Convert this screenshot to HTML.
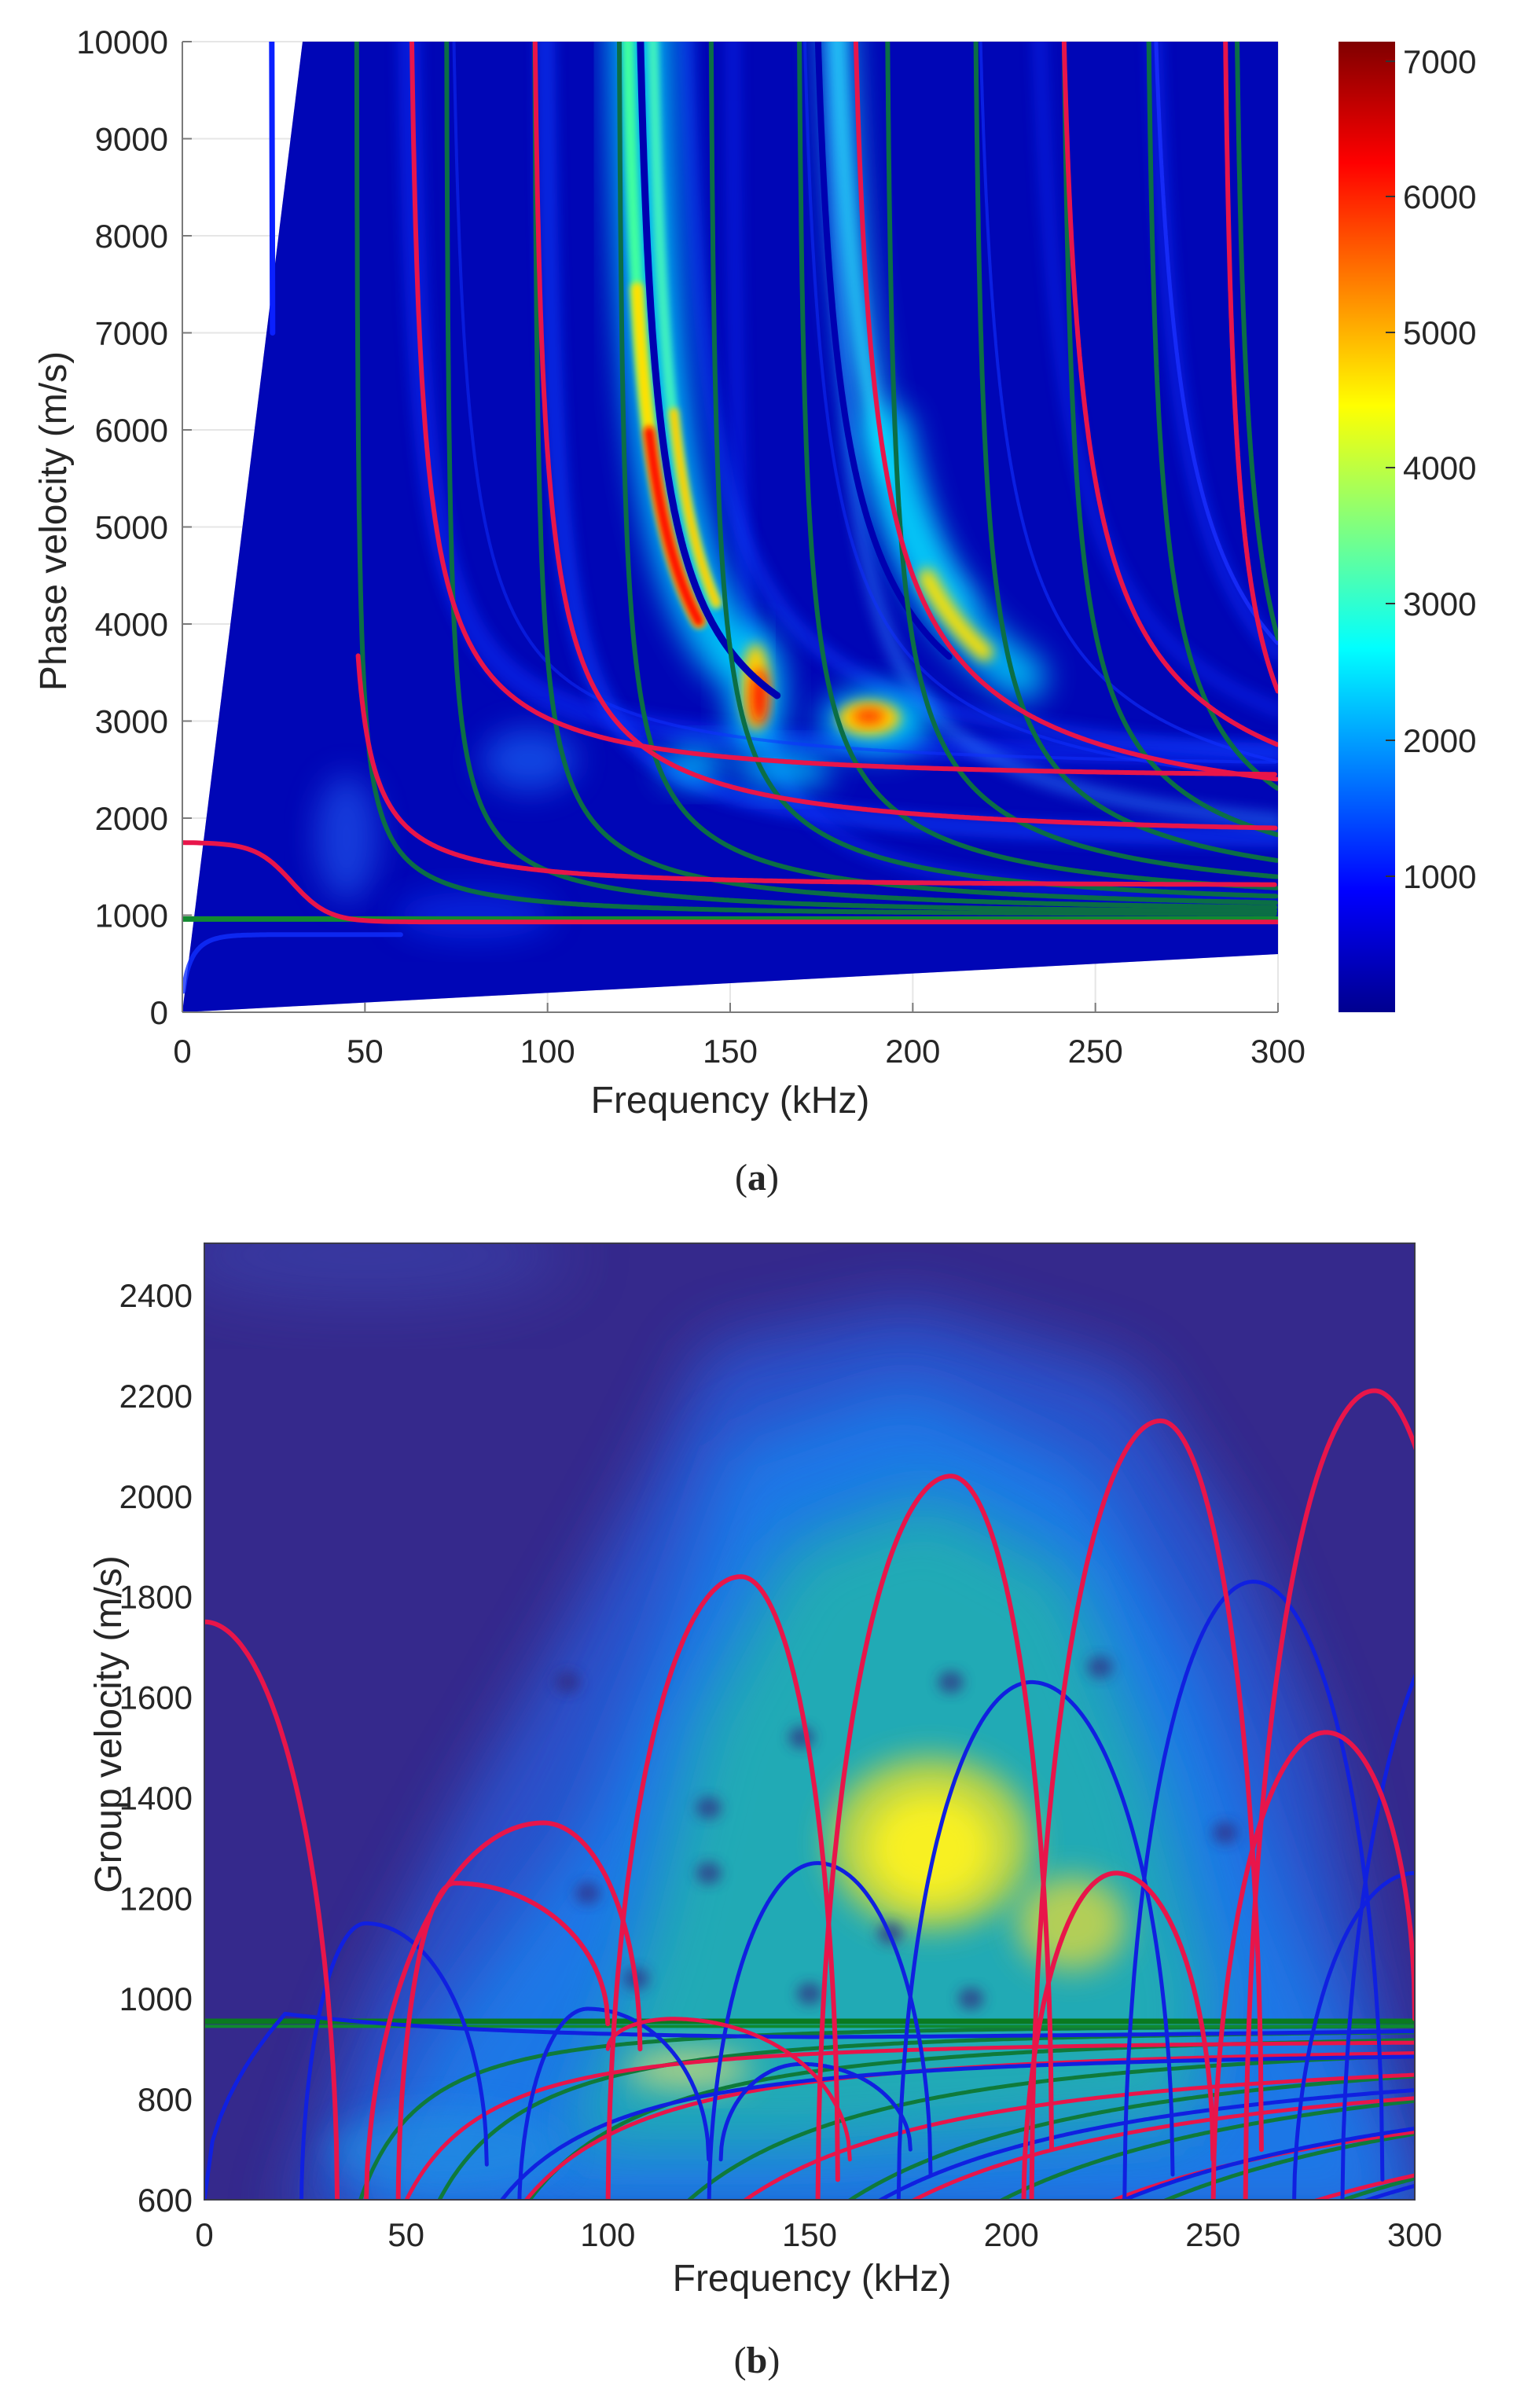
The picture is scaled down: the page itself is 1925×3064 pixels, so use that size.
<!DOCTYPE html>
<html><head><meta charset="utf-8"><style>
html,body{margin:0;padding:0;background:#fff;width:1925px;height:3064px;overflow:hidden}
svg{display:block}
text{font-family:"Liberation Sans",sans-serif;fill:#262626}
</style></head><body>
<svg id="s" xmlns="http://www.w3.org/2000/svg" width="1925" height="3064" viewBox="0 0 1925 3064">
<defs>
<filter id="b4" x="-50%" y="-50%" width="200%" height="200%"><feGaussianBlur stdDeviation="4"/></filter>
<filter id="b8" x="-50%" y="-50%" width="200%" height="200%"><feGaussianBlur stdDeviation="8"/></filter>
<filter id="b20" x="-50%" y="-50%" width="200%" height="200%"><feGaussianBlur stdDeviation="20"/></filter>
<filter id="b40" x="-50%" y="-50%" width="200%" height="200%"><feGaussianBlur stdDeviation="40"/></filter>
<clipPath id="cA"><polygon points="232,1288 385,53 1626,53 1626,1214"/></clipPath>
<clipPath id="cA2"><rect x="232" y="53" width="1394" height="1235"/></clipPath>
<clipPath id="cB"><rect x="260" y="1582" width="1540" height="1217"/></clipPath>
<linearGradient id="jet" x1="0" y1="0" x2="0" y2="1">
<stop offset="0" stop-color="#800000"/><stop offset="0.125" stop-color="#ff0000"/>
<stop offset="0.375" stop-color="#ffff00"/><stop offset="0.625" stop-color="#00ffff"/>
<stop offset="0.875" stop-color="#0000ff"/><stop offset="1" stop-color="#00008f"/>
</linearGradient>
</defs>
<g stroke="#e6e6e6" stroke-width="2" id="gridA"></g>
<polygon points="232,1288 385,53 1626,53 1626,1214" fill="#0000a8"/>
<g id="heatA" clip-path="url(#cA)"></g>
<g id="curvesA" clip-path="url(#cA2)"></g>
<g stroke="#7a7a7a" stroke-width="2" fill="none"><line x1="232" y1="53" x2="232" y2="1288"/><line x1="232" y1="1288" x2="1626" y2="1288"/></g>
<g id="ticksA"></g>
<rect x="1703" y="53" width="72" height="1235" fill="url(#jet)"/>
<g id="cbar"></g>
<text x="929" y="1416" font-size="48" text-anchor="middle">Frequency (kHz)</text>
<text transform="translate(84,663) rotate(-90)" font-size="48" text-anchor="middle">Phase velocity (m/s)</text>
<text x="963" y="1514" font-size="48" text-anchor="middle" style='font-family:"Liberation Serif",serif'>(<tspan font-weight="bold">a</tspan>)</text>
<rect x="260" y="1582" width="1540" height="1217" fill="#35298c"/>
<g id="heatB" clip-path="url(#cB)"></g>
<g id="curvesB" clip-path="url(#cB)"></g>
<rect x="260" y="1582" width="1540" height="1217" fill="none" stroke="#3a3a4a" stroke-width="2"/>
<g id="ticksB"></g>
<text x="1033" y="2915" font-size="48" text-anchor="middle">Frequency (kHz)</text>
<text transform="translate(154,2194) rotate(-90)" font-size="48" text-anchor="middle">Group velocity (m/s)</text>
<text x="963" y="3019" font-size="48" text-anchor="middle" style='font-family:"Liberation Serif",serif'>(<tspan font-weight="bold">b</tspan>)</text>
</svg>
<script>
var NS="http://www.w3.org/2000/svg";
function el(p,tag,a,txt){var e=document.createElementNS(NS,tag);for(var k in a)e.setAttribute(k,a[k]);if(txt!==undefined)e.textContent=txt;document.getElementById(p).appendChild(e);return e;}
function XA(f){return 232+f*1394/300}function YA(v){return 1288-v*0.1235}
function XB(f){return 260+f*1540/300}function YB(v){return 2799-(v-600)*0.6394}
function poly(p,pts,st,w,extra){var d="";for(var i=0;i<pts.length;i++){d+=(i?"L":"M")+pts[i][0].toFixed(1)+","+pts[i][1].toFixed(1);}var a={d:d,fill:"none",stroke:st,"stroke-width":w,"stroke-linecap":"round","stroke-linejoin":"round"};if(extra)for(var k in extra)a[k]=extra[k];return el(p,"path",a);}
function cut(fc,vinf,f0,f1,vmax,vmin,dx){var pts=[];f0=f0||fc+0.01;f1=f1||300;vmax=vmax||10500;vmin=vmin||0;dx=dx||0;
 for(var i=0;i<=600;i++){var f=fc+Math.pow(i/600,2.2)*(300-fc)+0.001;if(f<f0||f>f1)continue;var v=vinf/Math.sqrt(1-(fc/f)*(fc/f));if(v>vmax||v<vmin)continue;pts.push([XA(f)+dx,YA(v)]);}return pts;}
for(var v=1000;v<=10000;v+=1000)el("gridA","line",{x1:232,x2:1626,y1:YA(v),y2:YA(v)});
for(var f=50;f<=300;f+=50)el("gridA","line",{x1:XA(f),x2:XA(f),y1:53,y2:1288});
var H="heatA";
el(H,"rect",{x:232,y:53,width:1394,height:1235,fill:"#0010d0",opacity:0.35});
[[98,1700,24,"#1040ff",0.6],[60,2600,30,"#0a30ff",0.5],[176,1600,20,"#2a80ff",0.5],[150,1000,20,"#0a30ff",0.4],[230,2000,20,"#0a30ff",0.4],[262,1800,20,"#0a30ff",0.5],[134,2400,20,"#0a40ff",0.5]].forEach(function(s){poly(H,cut(s[0],s[1]),s[3],s[2],{filter:"url(#b8)",opacity:s[4]});});
poly(H,cut(176,2400,177,215,10500,4000,-8),"#20d8ff",34,{filter:"url(#b20)",opacity:0.85});
poly(H,cut(176,2400,177,200,10500,5500,-8),"#30f0ff",14,{filter:"url(#b8)",opacity:0.7});
poly(H,cut(122.5,2150,123,150,10500,3700,0),"#00d8ff",80,{filter:"url(#b20)",opacity:0.85});
poly(H,cut(122.5,2150,123,145,10500,3900,-16),"#40ffa0",16,{filter:"url(#b4)"});
poly(H,cut(122.5,2150,123,145,7500,3900,-16),"#ffe000",16,{filter:"url(#b4)"});
poly(H,cut(122.5,2150,123,145,6000,3900,-16),"#ff1000",14,{filter:"url(#b4)"});
poly(H,cut(122.5,2150,123,145,10500,4200,16),"#40f0c0",14,{filter:"url(#b4)"});
poly(H,cut(122.5,2150,123,145,6200,4200,18),"#ffd000",12,{filter:"url(#b4)"});
poly(H,cut(180,2150,188,230,6000,3400),"#00e0ff",60,{filter:"url(#b20)",opacity:0.8});
poly(H,cut(180,2150,205,222,5000,3700,-6),"#ffe000",22,{filter:"url(#b8)"});
function blob(f,v,rx,ry,c,op,flt){el(H,"ellipse",{cx:XA(f),cy:YA(v),rx:rx,ry:ry,fill:c,opacity:op,filter:"url(#"+flt+")"});}
blob(157,3300,35,80,"#00e0ff",0.9,"b20");blob(157,3350,18,55,"#ffd000",1,"b8");blob(158,3250,10,35,"#ff1000",1,"b8");
blob(190,3000,70,40,"#00e0ff",0.9,"b20");blob(188,3030,40,22,"#ffd000",1,"b8");blob(188,3050,20,10,"#ff3000",0.9,"b8");
blob(140,2550,40,25,"#00d0ff",0.8,"b20");blob(165,2500,60,25,"#00d0ff",0.8,"b20");blob(95,2600,60,40,"#1a70ff",0.6,"b20");
blob(45,1800,40,80,"#2a70ff",0.5,"b20");blob(80,1000,100,30,"#0a40ff",0.5,"b20");
var C="curvesA";
poly(C,[[XA(24.5),YA(10000)],[XA(24.7),YA(7000)]],"#0a20ff",7);
var bp=[];for(var f=0.3;f<=60;f+=0.5){bp.push([XA(f),YA(800*Math.sqrt(1-Math.exp(-f/4)))]);}poly(C,bp,"#1030ff",6,{opacity:0.8});
poly(C,cut(122.5,2150,123,163),"#0000b0",9);
poly(C,cut(170,2150,172,210),"#0000b0",8);
poly(C,cut(262,1850),"#1a30ff",5,{opacity:0.8});
poly(C,cut(215,1800),"#1030ff",4,{opacity:0.6});
poly(C,cut(167,2000),"#1030ff",4,{opacity:0.5});
poly(C,cut(72,2500),"#1030ff",4,{opacity:0.5});
[47.5,72,96,119,144,168,192,216,240,263,287].forEach(function(fc,i){poly(C,cut(fc,1000+i*12),"#0b6e45",6);});
poly(C,[[XA(0),YA(960)],[XA(300),YA(960)]],"#128a30",7);
var lr=[];for(var f=0;f<=300;f+=1){lr.push([XA(f),YA(930+820/(1+Math.exp((f-30)/5)))]);}poly(C,lr,"#e8154a",6);
poly(C,cut(45,1300,47,300,3700),"#e8154a",6);
poly(C,cut(61,2400),"#e8154a",6);
poly(C,cut(95,1800),"#e8154a",6);
poly(C,cut(181,1914),"#e8154a",6);
poly(C,cut(238,1677),"#e8154a",6);
poly(C,cut(284,1064),"#e8154a",6);
for(var v=0;v<=10000;v+=1000){el("ticksA","text",{x:214,y:YA(v)+15,"font-size":42,"text-anchor":"end"},v);el("ticksA","line",{x1:232,x2:244,y1:YA(v),y2:YA(v),stroke:"#7a7a7a","stroke-width":2});}
for(var f=0;f<=300;f+=50){el("ticksA","text",{x:XA(f),y:1352,"font-size":42,"text-anchor":"middle"},f);el("ticksA","line",{x1:XA(f),x2:XA(f),y1:1288,y2:1276,stroke:"#7a7a7a","stroke-width":2});}
[[7000,78],[6000,250],[5000,423],[4000,595],[3000,768],[2000,942],[1000,1115]].forEach(function(t){el("cbar","text",{x:1785,y:t[1]+15,"font-size":42},t[0]);el("cbar","line",{x1:1763,x2:1775,y1:t[1],y2:t[1],stroke:"#333","stroke-width":2});});
H="heatB";
function pg(pts,c,op,flt){var s=pts.map(function(p){return XB(p[0]).toFixed(1)+","+YB(p[1]).toFixed(1)}).join(" ");el(H,"polygon",{points:s,fill:c,opacity:op,filter:"url(#"+flt+")"});}
function eb(f,v,rx,ry,c,op,flt){el(H,"ellipse",{cx:XB(f),cy:YB(v),rx:rx,ry:ry,fill:c,opacity:op,filter:"url(#"+flt+")"});}
eb(40,2480,260,60,"#3a45b0",0.6,"b40");
pg([[20,550],[40,1000],[65,1400],[90,1750],[110,2050],[125,2300],[175,2380],[230,2250],[258,1900],[278,1500],[292,1000],[305,550]],"#2a55d0",0.9,"b40");
pg([[35,550],[55,900],[95,1350],[115,1750],[130,2100],[175,2220],[220,2050],[248,1650],[268,1200],[288,800],[300,550]],"#1f7ae8",0.95,"b40");
pg([[90,700],[108,1100],[122,1550],[145,1900],[180,2000],[215,1850],[235,1450],[250,1000],[245,750],[150,700]],"#22b0b0",0.9,"b40");
eb(180,1310,130,110,"#c8d840",0.9,"b20");eb(180,1300,80,70,"#f8f020",1,"b20");
eb(215,1150,70,60,"#d8d840",0.8,"b20");eb(120,860,80,25,"#e8e070",0.7,"b20");
eb(60,700,150,50,"#2090e0",0.6,"b20");
[[90,1630],[125,1380],[125,1250],[95,1210],[148,1520],[185,1630],[170,1130],[150,1010],[190,1000],[222,1660],[253,1330],[107,1040]].forEach(function(p){eb(p[0],p[1],16,14,"#302a80",0.7,"b8");});
C="curvesB";
function arch(f0,fp,f1,vp,c,w,base0,base1){var pts=[];base0=base0===undefined?560:base0;base1=base1===undefined?560:base1;
 for(var i=0;i<=120;i++){var f=f0+(fp-f0)*i/120;var t=(f-fp)/(fp-f0);pts.push([XB(f),YB(base0+(vp-base0)*Math.sqrt(Math.max(0,1-t*t)))]);}
 for(var i=1;i<=120;i++){var f=fp+(f1-fp)*i/120;var t=(f-fp)/(f1-fp);pts.push([XB(f),YB(base1+(vp-base1)*Math.sqrt(Math.max(0,1-t*t)))]);}
 poly(C,pts,c,w);}
function rise(fc,vinf,c,w){var pts=[];for(var i=0;i<=300;i++){var f=fc+(300-fc)*Math.pow(i/300,1.6)+0.001;pts.push([XB(f),YB(vinf*Math.sqrt(1-(fc/f)*(fc/f)))]);}poly(C,pts,c,w);}
[30,45,62,92,122,150,180,212,240,268].forEach(function(fc,i){rise(fc,950-i*6,"#0f7a3a",5);});
[38,60,100,130,165,200,230,262].forEach(function(fc,i){rise(fc,920-i*10,"#e8154a",5);});
[55,125,170,215].forEach(function(fc){rise(fc,900,"#1020e0",5);});
poly(C,[[XB(0),YB(955)],[XB(300),YB(955)]],"#0a7a20",7);
poly(C,[[XB(0),YB(945)],[XB(300),YB(945)]],"#0f8a30",4);
var bl=[];for(var f=0;f<=300;f+=2){var v=f<20?600+370*Math.sqrt(f/20):(970-50*(1-Math.exp(-(f-20)/50))+ (f>150?(f-150)*0.1:0));bl.push([XB(f),YB(v)]);}poly(C,bl,"#1020e0",5);
arch(24,40,70,1150,"#1020e0",5,560,670);
arch(78,95,125,980,"#1020e0",5,560,680);
arch(125,152,180,1270,"#1020e0",5,560,650);
arch(128,148,175,870,"#1020e0",5,680,700);
arch(172,205,240,1630,"#1020e0",5,560,650);
arch(228,260,292,1830,"#1020e0",5,560,640);
arch(270,300,330,1250,"#1020e0",5,560,560);
arch(282,320,360,1830,"#1020e0",5,560,560);
arch(-40,0,33,1750,"#e8154a",6,560,560);
arch(48,62,100,1230,"#e8154a",6,560,950);
arch(40,84,108,1350,"#e8154a",6,560,900);
arch(100,133,157,1840,"#e8154a",6,560,640);
arch(152,185,210,2040,"#e8154a",6,560,700);
arch(205,237,262,2150,"#e8154a",6,560,700);
arch(258,290,318,2210,"#e8154a",6,560,560);
arch(203,226,250,1250,"#e8154a",6,560,680);
arch(250,278,300,1530,"#e8154a",6,560,960);
arch(100,116,160,960,"#e8154a",5,900,680);
for(var v=600;v<=2400;v+=200){el("ticksB","text",{x:245,y:YB(v)+15,"font-size":42,"text-anchor":"end"},v);}
for(var f=0;f<=300;f+=50){el("ticksB","text",{x:XB(f),y:2858,"font-size":42,"text-anchor":"middle"},f);}
</script>
</body></html>
